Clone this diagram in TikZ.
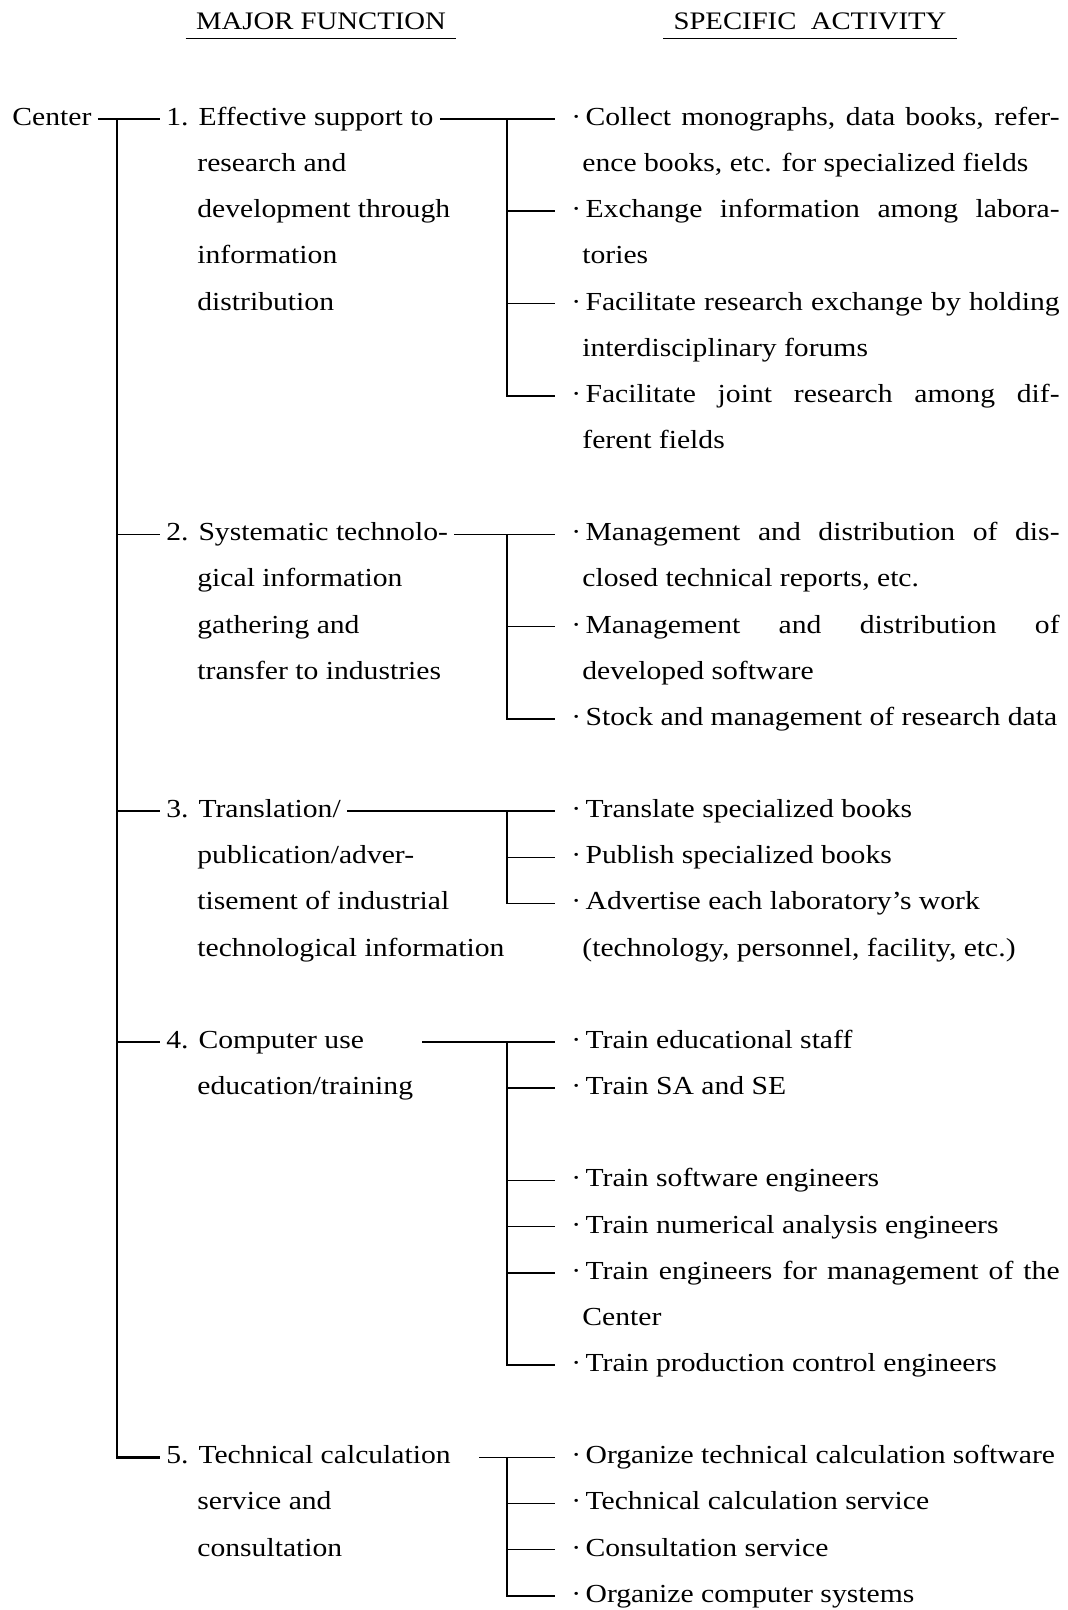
\documentclass[tikz,border=0pt]{standalone}
\usepackage{fontspec}
\setmainfont{Liberation Serif}[FakeStretch=1.14]
\newcommand{\jline}[1]{\makebox[237pt][s]{#1}}

\begin{document}
\begin{tikzpicture}[x=0.5pt,y=-23.075pt,
  txt/.style={anchor=west,inner xsep=3pt,inner ysep=0pt,text height=1.8ex,text depth=0.4ex,font=\fontsize{13pt}{15pt}\selectfont},
  act/.style={txt,inner xsep=8pt},
  head/.style={anchor=base,inner xsep=5pt,inner ysep=4pt,text depth=0pt,font=\fontsize{12.6pt}{14pt}\selectfont},
  trunk/.style={line width=1.3pt},
  link/.style={line width=0.8pt}]
\useasboundingbox (0,-2.5785) rectangle (1067,32.3077);

% headings
\node[head] (hmaj) at (321,-1.9285) {MAJOR FUNCTION};
\node[head] (hspec) at (810,-1.9285) {SPECIFIC\ \ ACTIVITY};
\draw[link] (hmaj.south west) -- (hmaj.south east);
\draw[link] (hspec.south west) -- (hspec.south east);

% center and major functions
\node[txt] (ctr) at (6,0) {Center};
\node[txt] (f1) at (160,0) {1. Effective support to};
\node[txt] (f1b) at (191,1) {research and};
\node[txt] (f1c) at (191,2) {development through};
\node[txt] (f1d) at (191,3) {information};
\node[txt] (f1e) at (191,4) {distribution};
\node[txt] (f2) at (160,9) {2. Systematic technolo-};
\node[txt] (f2b) at (191,10) {gical information};
\node[txt] (f2c) at (191,11) {gathering and};
\node[txt] (f2d) at (191,12) {transfer to industries};
\node[txt] (f3) at (160,15) {3. Translation/};
\node[txt] (f3b) at (191,16) {publication/adver-};
\node[txt] (f3c) at (191,17) {tisement of industrial};
\node[txt] (f3d) at (191,18) {technological information};
\node[txt] (f4) at (160,20) {4. Computer use};
\node[txt] (f4b) at (191,21) {education/training};
\node[txt] (f5) at (160,29) {5. Technical calculation};
\node[txt] (f5b) at (191,30) {service and};
\node[txt] (f5c) at (191,31) {consultation};

% specific activities
\node[act] (a11) at (555,0) {·\,\jline{Collect monographs, data books, refer-}};
\node[txt] (a11b) at (576,1) {ence books, etc. for specialized fields};
\node[act] (a12) at (555,2) {·\,\jline{Exchange information among labora-}};
\node[txt] (a12b) at (576,3) {tories};
\node[act] (a13) at (555,4) {·\,\jline{Facilitate research exchange by holding}};
\node[txt] (a13b) at (576,5) {interdisciplinary forums};
\node[act] (a14) at (555,6) {·\,\jline{Facilitate joint research among dif-}};
\node[txt] (a14b) at (576,7) {ferent fields};

\node[act] (a21) at (555,9) {·\,\jline{Management and distribution of dis-}};
\node[txt] (a21b) at (576,10) {closed technical reports, etc.};
\node[act] (a22) at (555,11) {·\,\jline{Management and distribution of}};
\node[txt] (a22b) at (576,12) {developed software};
\node[act] (a23) at (555,13) {·\,Stock and management of research data};

\node[act] (a31) at (555,15) {·\,Translate specialized books};
\node[act] (a32) at (555,16) {·\,Publish specialized books};
\node[act] (a33) at (555,17) {·\,Advertise each laboratory's work};
\node[txt] (a33b) at (576,18) {(technology, personnel, facility, etc.)};

\node[act] (a41) at (555,20) {·\,Train educational staff};
\node[act] (a42) at (555,21) {·\,Train SA and SE};
\node[act] (a43) at (555,23) {·\,Train software engineers};
\node[act] (a44) at (555,24) {·\,Train numerical analysis engineers};
\node[act] (a45) at (555,25) {·\,\jline{Train engineers for management of the}};
\node[txt] (a45b) at (576,26) {Center};
\node[act] (a46) at (555,27) {·\,Train production control engineers};

\node[act] (a51) at (555,29) {·\,Organize technical calculation software};
\node[act] (a52) at (555,30) {·\,Technical calculation service};
\node[act] (a53) at (555,31) {·\,Consultation service};
\node[act] (a54) at (555,32) {·\,Organize computer systems};

% trunk
\coordinate (tr) at (117,0);
\draw[link] (ctr.east) -- (f1.west);
\draw[trunk] (tr) |- (f5.west);
\draw[link] (tr |- f2.west) -- (f2.west);
\draw[link] (tr |- f3.west) -- (f3.west);
\draw[link] (tr |- f4.west) -- (f4.west);

% branches
\coordinate (b1) at (507,0);
\draw[link] (f1.east) -- (a11.west);
\draw[link] (b1) |- (a14.west);
\draw[link] (b1 |- a12.west) -- (a12.west);
\draw[link] (b1 |- a13.west) -- (a13.west);

\coordinate (b2) at (507,9);
\draw[link] (f2.east) -- (a21.west);
\draw[link] (b2) |- (a23.west);
\draw[link] (b2 |- a22.west) -- (a22.west);

\coordinate (b3) at (507,15);
\draw[link] (f3.east) -- (a31.west);
\draw[link] (b3) |- (a33.west);
\draw[link] (b3 |- a32.west) -- (a32.west);

\coordinate (b4) at (507,20);
\draw[link,shorten <=26pt] (f4.east) -- (a41.west);
\draw[link] (b4) |- (a46.west);
\draw[link] (b4 |- a42.west) -- (a42.west);
\draw[link] (b4 |- a43.west) -- (a43.west);
\draw[link] (b4 |- a44.west) -- (a44.west);
\draw[link] (b4 |- a45.west) -- (a45.west);

\coordinate (b5) at (507,29);
\draw[link,shorten <=11pt] (f5.east) -- (a51.west);
\draw[link] (b5) |- (a54.west);
\draw[link] (b5 |- a52.west) -- (a52.west);
\draw[link] (b5 |- a53.west) -- (a53.west);
\end{tikzpicture}
\end{document}
